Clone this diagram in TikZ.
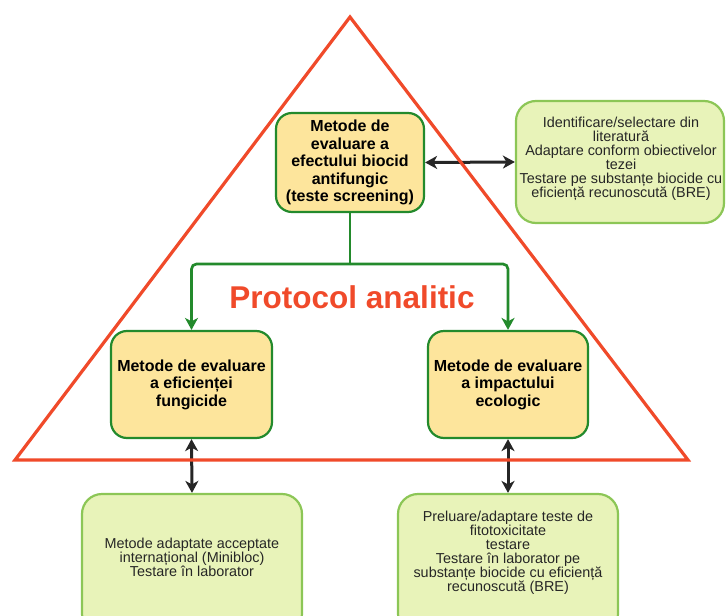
\documentclass[tikz,border=0pt]{standalone}
\usepackage{fontspec}
\setmainfont{Liberation Sans}
\usetikzlibrary{arrows.meta}

\definecolor{trired}{HTML}{F04A2A}
\definecolor{boxyellow}{HTML}{FDE59C}
\definecolor{darkgreen}{HTML}{238A2C}
\definecolor{lightfill}{HTML}{E8F3B9}
\definecolor{lightgreen}{HTML}{8CC656}

\pgfdeclarelayer{links}
\pgfdeclarelayer{frame}
\pgfsetlayers{links,frame,main}

\tikzset{
  mainbox/.style={draw=darkgreen, fill=boxyellow, line width=2.2pt, rounded corners=16pt,
    align=center, font=\bfseries\fontsize{16}{17.6}\selectfont, inner sep=0pt},
  notebox/.style={draw=lightgreen, fill=lightfill, line width=2.2pt, rounded corners=20pt,
    inner sep=0pt},
  notetext/.style={align=center, font=\fontsize{14.4}{14}\selectfont, text=black!85},
  tip/.style={Stealth[length=12pt,width=13pt,inset=3.5pt]},
  link/.style={{Stealth[length=12pt,width=13pt,inset=3.5pt]}-{Stealth[length=12pt,width=13pt,inset=3.5pt]}, line width=3pt, black!85},
  flow/.style={-{Stealth[length=12pt,width=13pt,inset=3.5pt]}, line width=2.7pt, darkgreen, rounded corners=5pt}
}

\begin{document}
\begin{tikzpicture}[x=1pt,y=-1pt]
\useasboundingbox (0,0) rectangle (727,615);
\clip (0,0) rectangle (727,615);

% boxes
\node[mainbox, minimum width=148pt, minimum height=99pt] (top) at (350,162.5)
  {Metode de\\evaluare a\\efectului biocid\\antifungic\\(teste screening)};
\node[mainbox, minimum width=161pt, minimum height=107pt] (left) at (191.5,384.5)
  {Metode de evaluare\\a eficienței\\fungicide};
\node[mainbox, minimum width=160pt, minimum height=107pt] (right) at (508,384.5)
  {Metode de evaluare\\a impactului\\ecologic};

\node[notebox, minimum width=208pt, minimum height=122pt] (lit) at (620,162) {};
\node[notetext] (littxt) at (621,159)
  {Identificare/selectare din\\literatură\\Adaptare conform obiectivelor\\tezei\\Testare pe substanțe biocide cu\\eficiență recunoscută (BRE)};
\node[notebox, minimum width=220pt, minimum height=140pt] (lab) at (192,564) {};
\node[notebox, minimum width=220pt, minimum height=140pt] (eco) at (508,564) {};
\node[notetext] (labtxt) at (192,557)
  {Metode adaptate acceptate\\internațional (Minibloc)\\Testare în laborator};
\node[notetext] (ecotxt) at (508,553)
  {Preluare/adaptare teste de\\fitotoxicitate\\testare\\Testare în laborator pe\\substanțe biocide cu eficiență\\recunoscută (BRE)};

% triangle
\begin{pgfonlayer}{frame}
\draw[trired, line width=3.2pt, line join=miter] (350,17) -- (688,460) -- (15,460) -- cycle;
\end{pgfonlayer}
\node[text=trired, font=\bfseries\fontsize{31.5}{36}\selectfont] (title) at (352,297) {Protocol analitic};

% connectors
\coordinate (split) at (350,264);
\draw[line width=2.7pt, darkgreen] (top.south) -- (split);
\draw[flow] (split) -| (left.north);
\draw[flow] (split) -| (right.north);
\begin{pgfonlayer}{links}
\draw[link] (top.east) -- (lit.west);
\draw[link] (left.south) -- (lab.north);
\draw[link] (right.south) -- (eco.north);
\end{pgfonlayer}
\end{tikzpicture}
\end{document}
